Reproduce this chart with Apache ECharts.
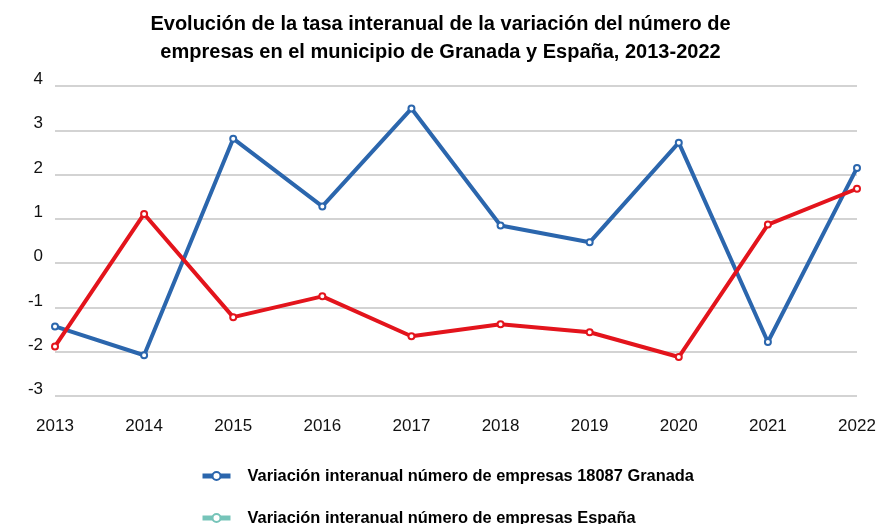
<!DOCTYPE html>
<html>
<head>
<meta charset="utf-8">
<script src="https://cdn.jsdelivr.net/npm/echarts@6/dist/echarts.min.js"></script>
<style>
    html, body { margin: 0; padding: 0; background: #fff; }
    #main { width: 881px; height: 524px; }
</style>
</head>
<body>
<div id="main"></div>
<script>
var years = ['2013', '2014', '2015', '2016', '2017', '2018', '2019', '2020', '2021', '2022'];
var granada = [-1.43, -2.08, 2.81, 1.28, 3.49, 0.85, 0.47, 2.72, -1.78, 2.15];
var espana = [-1.88, 1.11, -1.22, -0.75, -1.65, -1.38, -1.56, -2.12, 0.87, 1.68];
var nameGranada = 'Variación interanual número de empresas 18087 Granada';
var nameEspana = 'Variación interanual número de empresas España';

var chartDom = document.getElementById('main');
var myChart = echarts.init(chartDom);
var option;

option = {
    animation: false,
    title: {
        text: 'Evolución de la tasa interanual de la variación del número de\nempresas en el municipio de Granada y España, 2013-2022',
        left: 'center',
        top: 5,
        textStyle: {
            fontFamily: 'Liberation Sans',
            fontSize: 20,
            fontWeight: 'bold',
            color: '#000',
            lineHeight: 28
        }
    },
    legend: {
        orient: 'vertical',
        left: 200,
        top: 468,
        height: 90,
        padding: 0,
        itemGap: 26,
        itemWidth: 28,
        itemHeight: 10,
        textStyle: {
            fontFamily: 'Liberation Sans',
            fontSize: 16.4,
            fontWeight: 'bold',
            color: '#000',
            padding: [0, 0, 0, 12]
        },
        data: [
            {
                name: nameGranada,
                itemStyle: { color: '#2b66ad', borderColor: '#2b66ad', borderWidth: 3 },
                lineStyle: { color: '#2b66ad', width: 5 }
            },
            {
                name: nameEspana,
                itemStyle: { color: '#76c4b9', borderColor: '#76c4b9', borderWidth: 3 },
                lineStyle: { color: '#76c4b9', width: 5 }
            }
        ]
    },
    grid: {
        left: 55,
        right: 24,
        top: 86,
        bottom: 128
    },
    xAxis: {
        type: 'category',
        boundaryGap: false,
        data: years,
        axisLine: { show: false },
        axisTick: { show: false },
        axisLabel: {
            fontFamily: 'Liberation Sans',
            fontSize: 17,
            color: '#111',
            margin: 22
        }
    },
    yAxis: {
        type: 'value',
        min: -3,
        max: 4,
        interval: 1,
        axisLine: { show: false },
        axisTick: { show: false },
        axisLabel: {
            fontFamily: 'Liberation Sans',
            fontSize: 17,
            color: '#111',
            margin: 12,
            verticalAlign: 'bottom',
            padding: [0, 0, -2, 0]
        },
        splitLine: { lineStyle: { color: '#c4c4c4', width: 1.5 } }
    },
    series: [
        {
            name: nameGranada,
            type: 'line',
            data: granada,
            symbol: 'emptyCircle',
            symbolSize: 6,
            color: '#2b66ad',
            lineStyle: { width: 4, color: '#2b66ad' },
            itemStyle: { color: '#2b66ad', borderColor: '#2b66ad', borderWidth: 2 }
        },
        {
            name: nameEspana,
            type: 'line',
            data: espana,
            symbol: 'emptyCircle',
            symbolSize: 6,
            color: '#e3141c',
            lineStyle: { width: 4, color: '#e3141c' },
            itemStyle: { color: '#e3141c', borderColor: '#e3141c', borderWidth: 2 }
        }
    ]
};

option && myChart.setOption(option);
</script>
</body>
</html>
